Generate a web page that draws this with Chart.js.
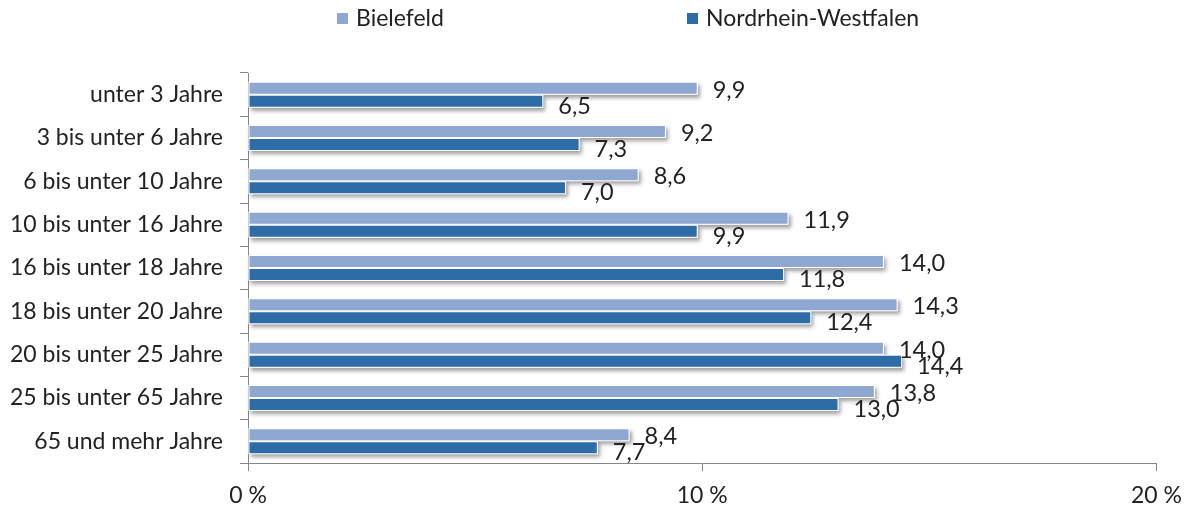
<!DOCTYPE html>
<html>
<head>
<meta charset="utf-8">
<script src="https://cdn.jsdelivr.net/npm/chart.js@4/dist/chart.umd.min.js"></script>
<style>
  html, body { margin: 0; padding: 0; background: #ffffff; }
  #wrap { width: 1193px; height: 508px; position: relative; }
</style>
</head>
<body>
<div id="wrap"><canvas id="c" width="1193" height="508"></canvas></div>
<script>
const categories = [
  'unter 3 Jahre',
  '3 bis unter 6 Jahre',
  '6 bis unter 10 Jahre',
  '10 bis unter 16 Jahre',
  '16 bis unter 18 Jahre',
  '18 bis unter 20 Jahre',
  '20 bis unter 25 Jahre',
  '25 bis unter 65 Jahre',
  '65 und mehr Jahre'
];
const seriesNames = ['Bielefeld', 'Nordrhein-Westfalen'];
const bielefeld = [9.9, 9.2, 8.6, 11.9, 14.0, 14.3, 14.0, 13.8, 8.4];
const nrw = [6.5, 7.3, 7.0, 9.9, 11.8, 12.4, 14.4, 13.0, 7.7];
const xTickValues = [0, 10, 20];
const xTickLabels = ['0 %', '10 %', '20 %'];

const FONT = 'Lato, "Open Sans", sans-serif';
const TEXT = '#222222';
const AXIS = '#868686';
const LIGHT = 'rgb(143,168,210)';
const DARK = 'rgb(45,108,166)';

const shadowPlugin = {
  id: 'barShadow',
  beforeDatasetsDraw(chart) {
    const ctx = chart.ctx;
    chart.data.datasets.forEach((ds, i) => {
      const meta = chart.getDatasetMeta(i);
      meta.data.forEach(bar => {
        const left = Math.min(bar.base, bar.x);
        const w = Math.abs(bar.x - bar.base);
        const top = bar.y - bar.height / 2;
        ctx.save();
        ctx.shadowColor = 'rgba(0,0,0,0.38)';
        ctx.shadowBlur = 4;
        ctx.shadowOffsetX = 2;
        ctx.shadowOffsetY = 3;
        ctx.fillStyle = '#ffffff';
        ctx.fillRect(left, top, w, bar.height);
        ctx.restore();
      });
    });
  }
};

const labelPlugin = {
  id: 'valueLabels',
  afterDatasetsDraw(chart) {
    const ctx = chart.ctx;
    ctx.save();
    ctx.font = '23.5px ' + FONT;
    ctx.fillStyle = TEXT;
    ctx.textAlign = 'left';
    ctx.textBaseline = 'middle';
    chart.data.datasets.forEach((ds, i) => {
      const meta = chart.getDatasetMeta(i);
      const dy = i === 0 ? 2 : 5;
      meta.data.forEach((bar, j) => {
        const txt = ds.data[j].toFixed(1).replace('.', ',');
        ctx.fillText(txt, bar.x + 15, bar.y + dy);
      });
    });
    ctx.restore();
  }
};

const legendPlugin = {
  id: 'topLegend',
  afterDraw(chart) {
    const ctx = chart.ctx;
    const starts = [337, 687];
    ctx.save();
    ctx.font = '23px ' + FONT;
    ctx.textBaseline = 'middle';
    ctx.textAlign = 'left';
    chart.data.datasets.forEach((ds, i) => {
      const x = starts[i];
      ctx.fillStyle = ds.backgroundColor;
      ctx.fillRect(x, 13, 11, 11);
      ctx.fillStyle = TEXT;
      ctx.fillText(ds.label, x + 19, 19);
    });
    ctx.restore();
  }
};

new Chart(document.getElementById('c'), {
  type: 'bar',
  data: {
    labels: categories,
    datasets: [
      { label: seriesNames[0], data: bielefeld, backgroundColor: LIGHT, borderColor: '#ffffff', borderWidth: 1, borderSkipped: false },
      { label: seriesNames[1], data: nrw, backgroundColor: DARK, borderColor: '#ffffff', borderWidth: 1, borderSkipped: false }
    ]
  },
  options: {
    indexAxis: 'y',
    responsive: false,
    animation: false,
    devicePixelRatio: 1,
    layout: { padding: { top: 73, right: 35, left: 0, bottom: 0 } },
    datasets: { bar: { categoryPercentage: 0.6, barPercentage: 1.0 } },
    plugins: {
      legend: { display: false },
      tooltip: { enabled: false }
    },
    scales: {
      x: {
        min: 0, max: 20,
        afterFit(scale) { scale.height = 45; },
        afterBuildTicks(scale) { scale.ticks = xTickValues.map(v => ({ value: v })); },
        ticks: {
          color: TEXT,
          font: { family: FONT, size: 23 },
          padding: 11,
          maxRotation: 0,
          callback: (v) => xTickLabels[xTickValues.indexOf(v)]
        },
        grid: { drawOnChartArea: false, drawTicks: true, tickLength: 8, color: AXIS },
        border: { display: true, color: AXIS, width: 1 }
      },
      y: {
        afterFit(scale) { scale.width = 248; },
        ticks: {
          color: TEXT,
          font: { family: FONT, size: 23 },
          padding: 17
        },
        grid: { offset: true, drawOnChartArea: false, drawTicks: true, tickLength: 8, color: AXIS },
        border: { display: true, color: AXIS, width: 1 }
      }
    }
  },
  plugins: [shadowPlugin, labelPlugin, legendPlugin]
});
</script>
</body>
</html>
